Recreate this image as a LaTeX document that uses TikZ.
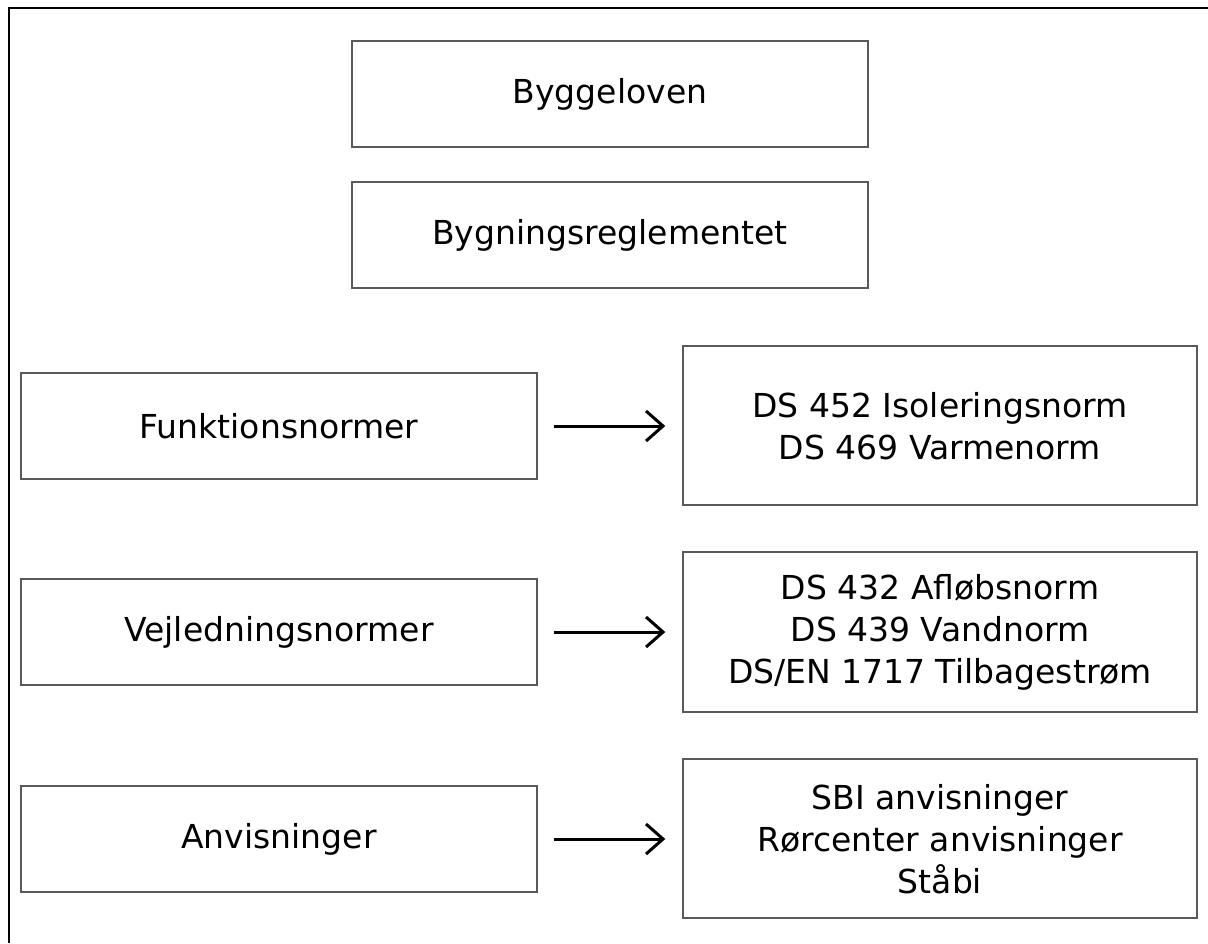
\documentclass[tikz,border=0pt]{standalone}
\usepackage{fontspec}
\setmainfont{DejaVu Sans}
\usetikzlibrary{arrows.meta}
\newcommand\lst{\rule[-1pt]{0pt}{27pt}}
\begin{document}
\begin{tikzpicture}[x=1pt,y=-1pt,
  box/.style={draw=black!65,line width=1.4pt,fill=white,inner sep=0pt,align=center,
    font=\fontsize{33}{42}\selectfont,text=black},
  topbox/.style={box,minimum width=516pt,minimum height=106pt},
  leftbox/.style={box,minimum width=516pt,minimum height=106pt},
  rightbox/.style={box,minimum width=514pt,minimum height=159pt},
  conn/.style={line width=3pt,-{Straight Barb[length=17pt,width=30pt,line width=3pt]},
    shorten <=16pt,shorten >=17pt}]
\useasboundingbox (0,0) rectangle (1208,943);
\fill[white] (0,0) rectangle (1208,943);
\draw[line width=1.8pt] (9,943) -- (9,8) -- (1208,8);
\node[topbox] (lov) at (610,94) {\lst Byggeloven};
\node[topbox] (br) at (610,235) {\lst Bygningsreglementet};
\node[leftbox] (fn) at (279,426) {\lst Funktionsnormer};
\node[rightbox] (fr) at (940,425.5) {\lst DS 452 Isoleringsnorm\\\lst DS 469 Varmenorm};
\node[leftbox] (vn) at (279,632) {\lst Vejledningsnormer};
\node[rightbox,minimum height=160pt] (vr) at (940,632) {\lst DS 432 Afløbsnorm\\\lst DS 439 Vandnorm\\\lst DS/EN 1717 Tilbagestrøm};
\node[leftbox] (an) at (279,839) {\lst Anvisninger};
\node[rightbox] (ar) at (940,838.5) {\lst SBI anvisninger\\\lst Rørcenter anvisninger\\\lst Ståbi};
\draw[conn] (fn.east) -- (fn.east -| fr.west);
\draw[conn] (vn.east) -- (vn.east -| vr.west);
\draw[conn] (an.east) -- (an.east -| ar.west);
\end{tikzpicture}
\end{document}
